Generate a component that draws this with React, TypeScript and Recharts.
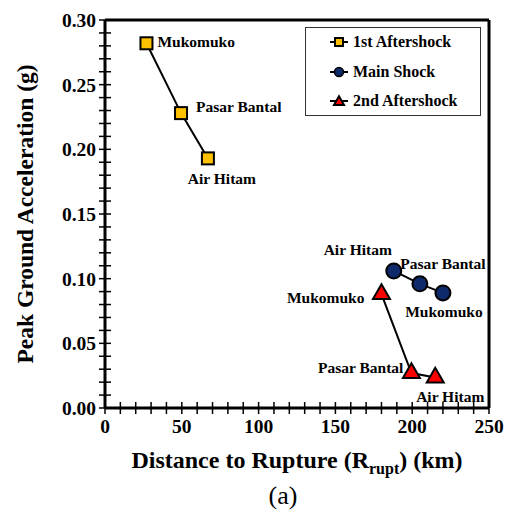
import React from "react"
import {
  Legend,
  ReferenceLine,
  Scatter,
  ScatterChart,
  XAxis,
  YAxis,
} from "recharts"

type Point = { site: string; r: number; pga: number }

// Rupture distance (km) vs. peak ground acceleration (g) per station
const firstAftershock: Point[] = [
  { site: "Mukomuko", r: 27, pga: 0.282 },
  { site: "Pasar Bantal", r: 49.5, pga: 0.228 },
  { site: "Air Hitam", r: 67, pga: 0.193 },
]

const mainShock: Point[] = [
  { site: "Air Hitam", r: 188, pga: 0.106 },
  { site: "Pasar Bantal", r: 205, pga: 0.096 },
  { site: "Mukomuko", r: 220, pga: 0.089 },
]

const secondAftershock: Point[] = [
  { site: "Mukomuko", r: 180, pga: 0.088 },
  { site: "Pasar Bantal", r: 199.5, pga: 0.027 },
  { site: "Air Hitam", r: 215, pga: 0.0235 },
]

const seriesNames = ["1st Aftershock", "Main Shock", "2nd Aftershock"]

const xMajorTicks = [0, 50, 100, 150, 200, 250]
const yMajorTicks = [0, 0.05, 0.1, 0.15, 0.2, 0.25, 0.3]

// minor ticks every 10 km / 0.01 g
const xTicks = Array.from({ length: 26 }, (_, i) => i * 10)
const yTicks = Array.from({ length: 31 }, (_, i) => i / 100)

const FONT = "'Liberation Serif', 'Times New Roman', serif"

const COLORS = {
  first: "#FFC000",
  main: "#0F2A6B",
  second: "#FF0000",
}

type Placement = { dx: number; dy: number; anchor: "start" | "middle" | "end" }

// where each station name sits relative to its marker
const labelPlacement: Record<string, Record<string, Placement>> = {
  first: {
    Mukomuko: { dx: 11, dy: 4, anchor: "start" },
    "Pasar Bantal": { dx: 15, dy: -1, anchor: "start" },
    "Air Hitam": { dx: 14, dy: 26, anchor: "middle" },
  },
  main: {
    "Air Hitam": { dx: -36, dy: -16, anchor: "middle" },
    "Pasar Bantal": { dx: 23, dy: -15, anchor: "middle" },
    Mukomuko: { dx: 1, dy: 24, anchor: "middle" },
  },
  second: {
    Mukomuko: { dx: -17, dy: 9, anchor: "end" },
    "Pasar Bantal": { dx: -8, dy: 0, anchor: "end" },
    "Air Hitam": { dx: 15, dy: 24, anchor: "middle" },
  },
}

function SiteLabel({ x, y, text, p }: { x: number; y: number; text: string; p?: Placement }) {
  if (!p) return null
  return (
    <text
      x={x + p.dx}
      y={y + p.dy}
      textAnchor={p.anchor}
      fontFamily={FONT}
      fontWeight="bold"
      fontSize={15.5}
      fill="#000"
    >
      {text}
    </text>
  )
}

function SquareMark({ cx, cy, s, fill }: { cx: number; cy: number; s: number; fill: string }) {
  return <rect x={cx - s / 2} y={cy - s / 2} width={s} height={s} fill={fill} stroke="#000" strokeWidth={2} />
}

function TriangleMark({ cx, cy, s, fill }: { cx: number; cy: number; s: number; fill: string }) {
  const h = s * 0.87
  const pts = `${cx},${cy - (h * 2) / 3} ${cx - s / 2},${cy + h / 3} ${cx + s / 2},${cy + h / 3}`
  return <polygon points={pts} fill={fill} stroke="#000" strokeWidth={2} strokeLinejoin="miter" />
}

const makeShape = (key: "first" | "main" | "second") => (props: any) => {
  const { cx, cy, payload } = props
  let mark
  if (key === "first") mark = <SquareMark cx={cx} cy={cy} s={12} fill={COLORS.first} />
  else if (key === "main") mark = <circle cx={cx} cy={cy} r={7.5} fill={COLORS.main} stroke="#000" strokeWidth={2} />
  else mark = <TriangleMark cx={cx} cy={cy} s={17} fill={COLORS.second} />
  return (
    <g>
      {mark}
      <SiteLabel x={cx} y={cy} text={payload.site} p={labelPlacement[key][payload.site]} />
    </g>
  )
}

function YTick({ x, y, payload }: any) {
  const v = payload.value
  const major = yMajorTicks.some((t) => Math.abs(t - v) < 1e-9)
  return (
    <g>
      <line x1={x - 6} x2={x + 6} y1={y} y2={y} stroke="#000" strokeWidth={1.5} />
      {major && (
        <text x={x - 9} y={y + 7} textAnchor="end" fontFamily={FONT} fontWeight="bold" fontSize={19.5} fill="#000">
          {v.toFixed(2)}
        </text>
      )}
    </g>
  )
}

function XTick({ x, y, payload }: any) {
  const v = payload.value
  const major = xMajorTicks.includes(v)
  return (
    <g>
      <line x1={x} x2={x} y1={y - 6} y2={y + 6} stroke="#000" strokeWidth={1.5} />
      {major && (
        <text x={x} y={y + 25} textAnchor="middle" fontFamily={FONT} fontWeight="bold" fontSize={19.5} fill="#000">
          {v}
        </text>
      )}
    </g>
  )
}

function XTitle({ viewBox }: any) {
  const cx = viewBox.x + viewBox.width / 2
  return (
    <g fontFamily={FONT} fill="#000">
      <text x={cx} y={viewBox.y + 60} textAnchor="middle" fontWeight="bold" fontSize={24}>
        Distance to Rupture (R
        <tspan dy={6} fontSize={16}>rupt</tspan>
        <tspan dy={-6}>) (km)</tspan>
      </text>
      <text x={cx - 14} y={viewBox.y + 96} textAnchor="middle" fontSize={26}>
        (a)
      </text>
    </g>
  )
}

function YTitle({ viewBox }: any) {
  const cy = viewBox.y + viewBox.height / 2
  const x = 33
  return (
    <text
      x={x}
      y={cy}
      transform={`rotate(-90, ${x}, ${cy})`}
      textAnchor="middle"
      fontFamily={FONT}
      fontWeight="bold"
      fontSize={23.5}
      fill="#000"
    >
      Peak Ground Acceleration (g)
    </text>
  )
}

function LegendIcon({ kind }: { kind: string }) {
  return (
    <svg width={20} height={14} style={{ display: "block" }}>
      <line x1={1} x2={19} y1={7} y2={7} stroke="#000" strokeWidth={2} />
      {kind === "first" && <SquareMark cx={10} cy={7} s={8} fill={COLORS.first} />}
      {kind === "main" && <circle cx={10} cy={7} r={4.5} fill={COLORS.main} stroke="#000" strokeWidth={1.5} />}
      {kind === "second" && <TriangleMark cx={10} cy={8} s={10} fill={COLORS.second} />}
    </svg>
  )
}

const legendKinds: Record<string, string> = {
  "1st Aftershock": "first",
  "Main Shock": "main",
  "2nd Aftershock": "second",
}

function LegendBox({ payload }: any) {
  const items = [...(payload || [])].sort(
    (a: any, b: any) => seriesNames.indexOf(a.value) - seriesNames.indexOf(b.value)
  )
  return (
    <div
      style={{
        width: 174,
        height: 87,
        border: "1.5px solid #333",
        background: "#fff",
        boxSizing: "content-box",
        padding: 0,
        fontFamily: FONT,
      }}
    >
      {items.map((item: any, i: number) => (
        <div
          key={item.value}
          style={{
            position: "absolute",
            left: 24,
            top: 6 + i * 29.5,
            display: "flex",
            alignItems: "center",
            gap: 4,
            fontWeight: "bold",
            fontSize: 16,
            lineHeight: "18px",
            whiteSpace: "nowrap",
          }}
        >
          <LegendIcon kind={legendKinds[item.value]} />
          <span>{item.value}</span>
        </div>
      ))}
    </div>
  )
}

export default function App() {
  return (
    <div style={{ position: "absolute", left: 0, top: 0, width: 512, height: 515, background: "#fff" }}>
      <ScatterChart width={512} height={515} margin={{ top: 20, right: 23, bottom: 0, left: 0 }}>
        <XAxis
          type="number"
          dataKey="r"
          domain={[0, 250]}
          ticks={xTicks}
          interval={0}
          tickSize={0}
          tickMargin={0}
          tickLine={false}
          tick={<XTick />}
          axisLine={{ stroke: "#000", strokeWidth: 3 }}
          height={107}
          label={<XTitle />}
        />
        <YAxis
          type="number"
          dataKey="pga"
          domain={[0, 0.3]}
          ticks={yTicks}
          interval={0}
          tickSize={0}
          tickMargin={0}
          tickLine={false}
          tick={<YTick />}
          axisLine={{ stroke: "#000", strokeWidth: 3 }}
          width={105}
          label={<YTitle />}
        />
        <ReferenceLine y={0.3} stroke="#000" strokeWidth={3} />
        <ReferenceLine x={250} stroke="#000" strokeWidth={3} />
        <Legend
          layout="vertical"
          align="center"
          verticalAlign="middle"
          wrapperStyle={{ position: "absolute", left: 305, top: 27, width: 176, height: 89 }}
          content={<LegendBox />}
        />
        <Scatter
          name={seriesNames[0]}
          data={firstAftershock}
          fill={COLORS.first}
          line={{ stroke: "#000", strokeWidth: 2 }}
          shape={makeShape("first")}
          isAnimationActive={false}
        />
        <Scatter
          name={seriesNames[1]}
          data={mainShock}
          fill={COLORS.main}
          line={{ stroke: "#000", strokeWidth: 2 }}
          shape={makeShape("main")}
          isAnimationActive={false}
        />
        <Scatter
          name={seriesNames[2]}
          data={secondAftershock}
          fill={COLORS.second}
          line={{ stroke: "#000", strokeWidth: 2 }}
          shape={makeShape("second")}
          isAnimationActive={false}
        />
      </ScatterChart>
    </div>
  )
}
